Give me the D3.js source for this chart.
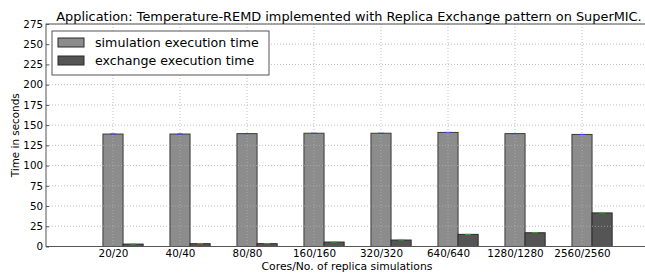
<!DOCTYPE html>
<html><head><meta charset="utf-8">
<script src="https://cdnjs.cloudflare.com/ajax/libs/d3/7.8.5/d3.min.js"></script>
<style>body{margin:0;background:#fff;} text{font-family:"DejaVu Sans",sans-serif;fill:#000;}</style>
</head><body>
<svg id="c" width="645" height="276"></svg>
<script>
const categories = ["20/20","40/40","80/80","160/160","320/320","640/640","1280/1280","2560/2560"];
const simulationTime = [139, 139, 139.5, 140, 140, 141, 139.5, 138.5];
const exchangeTime = [3, 3.5, 3.5, 5.5, 8, 15, 17, 41.5];
const yTicks = [0,25,50,75,100,125,150,175,200,225,250,275];
const seriesNames = ["simulation execution time","exchange execution time"];

(function(){
const svg = d3.select("#c");
const mL = 46, mR = 649, mT = 24, mB = 246.5;
const x = d3.scaleLinear().domain([0, 9]).range([mL, mR]);
const y = d3.scaleLinear().domain([0, 275]).range([mB, mT]);
const bw = 0.3;

function fit(sel, w, base) {
  sel.style("font-size", base + "px");
  const cur = sel.node().getComputedTextLength();
  sel.style("font-size", (base * w / cur).toFixed(2) + "px");
}

categories.forEach((c, i) => {
  const xi = i + 1;
  svg.append("rect").attr("x", x(xi - bw/2)).attr("width", x(bw) - x(0))
    .attr("y", y(simulationTime[i])).attr("height", y(0) - y(simulationTime[i]))
    .attr("fill", "#8c8c8c").attr("stroke", "#3a3a3a").attr("stroke-width", 1);
  svg.append("rect").attr("x", x(xi + bw/2)).attr("width", x(bw) - x(0))
    .attr("y", y(exchangeTime[i])).attr("height", y(0) - y(exchangeTime[i]))
    .attr("fill", "#555555").attr("stroke", "#2a2a2a").attr("stroke-width", 1);
  svg.append("line").attr("x1", x(xi) - 3).attr("x2", x(xi) + 3)
    .attr("y1", y(simulationTime[i])).attr("y2", y(simulationTime[i]))
    .attr("stroke", "#3040ff").attr("stroke-width", 1);
  svg.append("line").attr("x1", x(xi + bw) - 3).attr("x2", x(xi + bw) + 3)
    .attr("y1", y(exchangeTime[i])).attr("y2", y(exchangeTime[i]))
    .attr("stroke", "#30b030").attr("stroke-width", 1);
});

const grid = svg.append("g").attr("stroke", "#b0b0b0").attr("stroke-width", 0.8).attr("stroke-dasharray", "1,2");
yTicks.forEach(t => grid.append("line").attr("x1", mL).attr("x2", mR).attr("y1", y(t)).attr("y2", y(t)));
categories.forEach((c, i) => grid.append("line").attr("x1", x(i+1)).attr("x2", x(i+1)).attr("y1", mT).attr("y2", mB));

svg.append("rect").attr("x", mL).attr("y", mT).attr("width", mR - mL).attr("height", mB - mT)
  .attr("fill", "none").attr("stroke", "#555").attr("stroke-width", 1);

const yAxis = d3.axisLeft(y).tickValues(yTicks).tickSize(-3).tickPadding(3);
const gy = svg.append("g").attr("transform", `translate(${mL},0)`).call(yAxis);
gy.select(".domain").remove();
gy.selectAll("text").style("font-size", "10.3px").attr("font-family", "DejaVu Sans");
gy.selectAll("line").attr("stroke", "#555");

const xAxis = d3.axisBottom(x).tickValues(d3.range(1, 9)).tickFormat(d => categories[d-1]).tickSize(0).tickPadding(3);
const gx = svg.append("g").attr("transform", `translate(0,${mB})`).call(xAxis);
gx.select(".domain").remove();
gx.selectAll("text").style("font-size", "10.4px").attr("font-family", "DejaVu Sans");

const title = svg.append("text").attr("x", 349).attr("y", 21).attr("text-anchor", "middle")
  .text("Application: Temperature-REMD implemented with Replica Exchange pattern on SuperMIC.");
fit(title, 586, 13);
const xl = svg.append("text").attr("x", 347).attr("y", 270).attr("text-anchor", "middle")
  .text("Cores/No. of replica simulations");
fit(xl, 171, 10.5);
const yl = svg.append("text").attr("transform", `translate(19,${(mT + mB) / 2}) rotate(-90)`).attr("text-anchor", "middle")
  .text("Time in seconds");
fit(yl, 84, 10.5);

const lg = svg.append("g");
lg.append("rect").attr("x", 52).attr("y", 31).attr("width", 217).attr("height", 44)
  .attr("fill", "#fff").attr("stroke", "#555").attr("stroke-width", 1);
const legColors = ["#8c8c8c", "#555555"];
seriesNames.forEach((n, i) => {
  lg.append("rect").attr("x", 58).attr("y", 38 + i * 18).attr("width", 26).attr("height", 9)
    .attr("fill", legColors[i]).attr("stroke", "#2a2a2a").attr("stroke-width", 1);
  const t = lg.append("text").attr("x", 95).attr("y", 47 + i * 18).text(n);
  if (i === 0) fit(t, 164, 13); else t.style("font-size", lg.select("text").style("font-size"));
});
})();
</script>
</body></html>
